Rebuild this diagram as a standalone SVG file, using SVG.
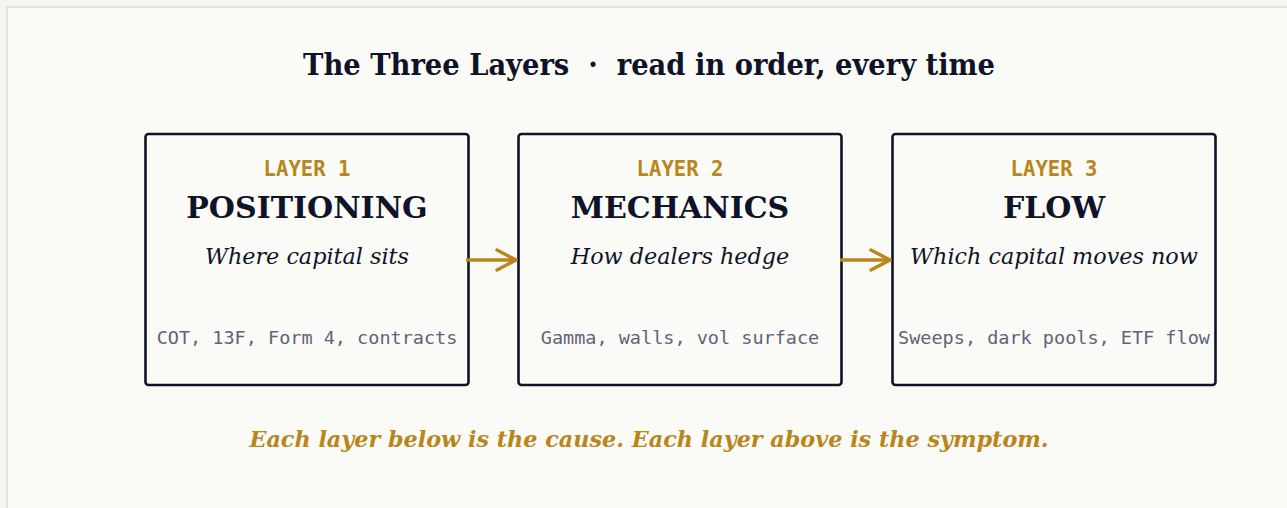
<svg xmlns="http://www.w3.org/2000/svg" width="1287" height="508" viewBox="0 0 1287 508">
  <defs>
    <marker id="chev" viewBox="0 0 24 24" refX="21" refY="12" markerWidth="24" markerHeight="24" markerUnits="userSpaceOnUse" orient="auto">
      <path d="M2,2 L21,12 L2,22" fill="none" stroke="#b8861b" stroke-width="3.4" stroke-linecap="round" stroke-linejoin="round"/>
    </marker>
  </defs>
  <style>
    .frame { fill: #fafaf6; stroke: #e2e2dc; stroke-width: 2; }
    .box { fill: #fafaf6; stroke: #0f1328; stroke-width: 2.6; }
    .title { font-family: "DejaVu Serif Condensed", "DejaVu Serif", serif; font-weight: bold; font-size: 30.4px; fill: #0f1328; text-anchor: middle; white-space: pre; }
    .tag { font-family: "DejaVu Sans Mono", monospace; font-weight: bold; font-size: 20.6px; fill: #b8861b; text-anchor: middle; }
    .name { font-family: "DejaVu Serif", serif; font-weight: bold; font-size: 30px; fill: #0f1328; text-anchor: middle; }
    .sub { font-family: "DejaVu Serif", serif; font-style: italic; font-size: 22.3px; fill: #0f1328; text-anchor: middle; }
    .src { font-family: "DejaVu Sans Mono", monospace; font-size: 18.5px; fill: #5e6479; text-anchor: middle; }
    .note { font-family: "DejaVu Serif", serif; font-weight: bold; font-style: italic; font-size: 22.3px; fill: #b8861b; text-anchor: middle; }
    .link { fill: none; stroke: #b8861b; stroke-width: 3.4; }
  </style>

  <rect x="0" y="0" width="1287" height="508" fill="#f6f6f0"/>
  <rect class="frame" x="7" y="7" width="1290" height="510"/>

  <text class="title" x="649" y="74.5" xml:space="preserve">The Three Layers  ·  read in order, every time</text>

  <g id="layer1">
    <rect class="box" x="145.5" y="134" width="323" height="251" rx="3"/>
    <text class="tag" x="307" y="176">LAYER 1</text>
    <text class="name" x="307" y="218">POSITIONING</text>
    <text class="sub" x="307" y="264">Where capital sits</text>
    <text class="src" x="307" y="344">COT, 13F, Form 4, contracts</text>
  </g>

  <g id="layer2">
    <rect class="box" x="518.5" y="134" width="323" height="251" rx="3"/>
    <text class="tag" x="680" y="176">LAYER 2</text>
    <text class="name" x="680" y="218">MECHANICS</text>
    <text class="sub" x="680" y="264">How dealers hedge</text>
    <text class="src" x="680" y="344">Gamma, walls, vol surface</text>
  </g>

  <g id="layer3">
    <rect class="box" x="892.5" y="134" width="323" height="251" rx="3"/>
    <text class="tag" x="1054" y="176">LAYER 3</text>
    <text class="name" x="1054" y="218">FLOW</text>
    <text class="sub" x="1054" y="264">Which capital moves now</text>
    <text class="src" x="1054" y="344">Sweeps, dark pools, ETF flow</text>
  </g>

  <g id="connectors">
    <line class="link" x1="466" y1="260" x2="516" y2="260" marker-end="url(#chev)"/>
    <line class="link" x1="840" y1="260" x2="890" y2="260" marker-end="url(#chev)"/>
  </g>

  <text class="note" x="649" y="447">Each layer below is the cause. Each layer above is the symptom.</text>
</svg>
